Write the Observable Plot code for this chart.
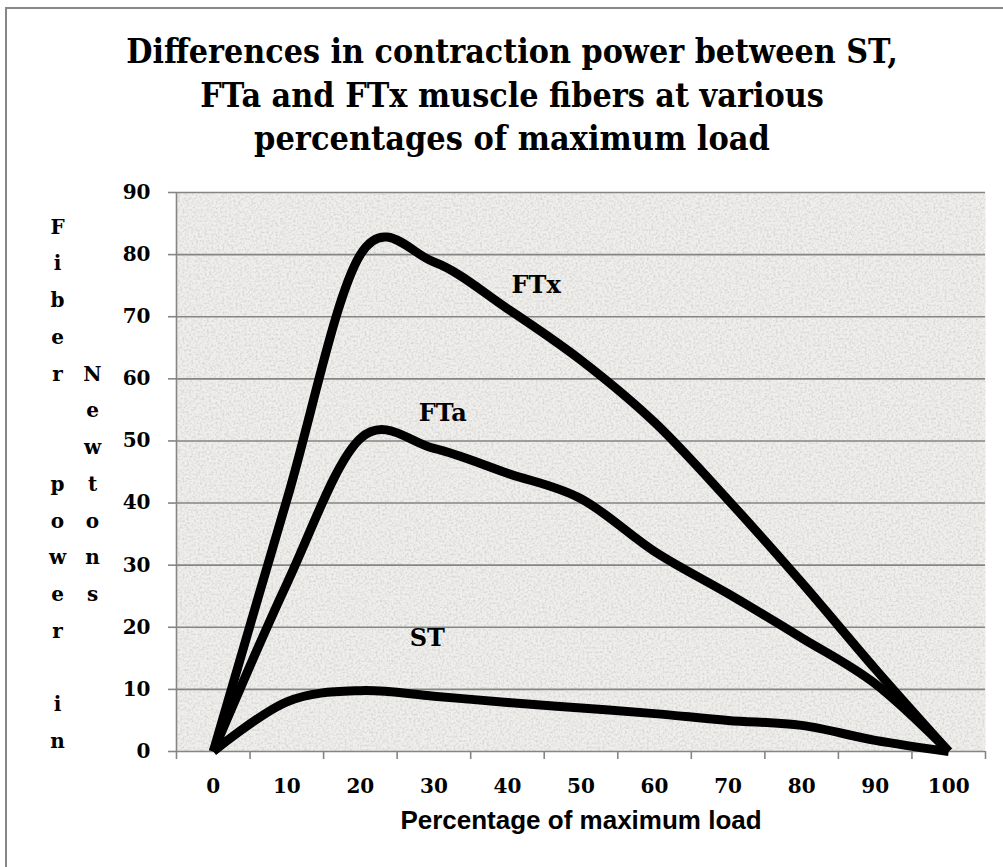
<!DOCTYPE html>
<html>
<head>
<meta charset="utf-8">
<script src="https://cdn.jsdelivr.net/npm/d3@7"></script>
<script src="https://cdn.jsdelivr.net/npm/@observablehq/plot@0.6"></script>
<style>
  body { margin: 0; background: #fff; }
  #wrap { position: relative; width: 1003px; height: 867px; overflow: hidden; background: #fff; }
  #border { position: absolute; left: 5px; top: 7px; width: 1100px; height: 1000px;
            border-left: 2px solid #878787; border-top: 2px solid #878787; }
  #title { position: absolute; left: 0; top: 0; }
  #title text { font-family: "DejaVu Serif", serif; font-weight: bold; font-size: 34px; fill: #000; }
  #chart { position: absolute; left: 0; top: 180px; }
</style>
</head>
<body>
<div id="wrap">
  <div id="border"></div>
  <svg id="title" width="1003" height="180">
    <text data-w="772" data-x="512" data-y="63" text-anchor="middle">Differences in contraction power between ST,</text>
    <text data-w="624" data-x="512" data-y="107" text-anchor="middle">FTa and FTx muscle fibers at various</text>
    <text data-w="516" data-x="512" data-y="150" text-anchor="middle">percentages of maximum load</text>
  </svg>
  <div id="chart"></div>
</div>
<script>
// ---- data ----
const loads = [0, 10, 20, 30, 40, 50, 60, 70, 80, 90, 100];
const stPower  = [0, 8.0, 9.8, 8.9, 7.9, 7.0, 6.1, 5.0, 4.2, 1.8, 0];
const ftaPower = [0, 27.0, 50.4, 48.8, 44.8, 40.7, 32.2, 25.4, 18.3, 10.9, 0];
const ftxPower = [0, 40.5, 80.0, 78.8, 71.3, 63.0, 53.0, 40.5, 27.2, 13.3, 0];
const seriesNames = ["ST", "FTa", "FTx"];
const yTicks = [0, 10, 20, 30, 40, 50, 60, 70, 80, 90];
const categoryBounds = [-5, 5, 15, 25, 35, 45, 55, 65, 75, 85, 95, 105];
const labelLoad  = [29.1, 31.2, 43.9];
const labelPower = [18.2, 54.4, 75.0];

// ---- tables built from the arrays ----
const seriesValues = [stPower, ftaPower, ftxPower];
const rows = [];
seriesNames.forEach((name, s) => loads.forEach((l, i) => rows.push({series: name, load: l, power: seriesValues[s][i]})));
const labels = seriesNames.map((name, i) => ({name, load: labelLoad[i], power: labelPower[i]}));

const serif = "DejaVu Serif, serif";
const gray = "#858585";
const rowH = 36.75;
const top0 = 15;

const stackText = (txt, dx, row) => Plot.text([txt], {
  frameAnchor: "top-left", dx, dy: top0 + row * rowH, lineAnchor: "top", lineHeight: rowH / 20,
  fontSize: 20, fontWeight: "bold", fontFamily: serif, textAnchor: "middle", fill: "#000"
});

const plot = Plot.plot({
  width: 1003,
  height: 687,
  marginLeft: 176,
  marginRight: 18,
  marginTop: 12,
  marginBottom: 116,
  style: {background: "transparent", color: "#000"},
  x: {domain: [-5, 105]},
  y: {domain: [0, 90]},
  marks: [
    Plot.frame({fill: "#f0efec", stroke: null}),
    Plot.gridY(yTicks, {stroke: gray, strokeOpacity: 1, strokeWidth: 1.6}),
    Plot.ruleX([-5], {stroke: gray, strokeWidth: 1.6}),
    Plot.axisY({ticks: yTicks, tickSize: 8, tickPadding: 18, stroke: gray, strokeWidth: 1.6,
                fontSize: 20, fontWeight: "bold", fontFamily: serif, label: null}),
    Plot.axisX({ticks: categoryBounds, tickSize: 8, tickFormat: () => "", stroke: gray, strokeWidth: 1.6, label: null}),
    Plot.axisX({ticks: loads, tickSize: 0, tickPadding: 27, tickFormat: d => String(d),
                fontSize: 20, fontWeight: "bold", fontFamily: serif, label: null}),
    Plot.line(rows, {x: "load", y: "power", z: "series", curve: "cardinal", tension: 0,
                     stroke: "#000", strokeWidth: 9, strokeLinejoin: "round", strokeLinecap: "butt"}),
    Plot.text(labels, {x: "load", y: "power", text: "name", fontSize: 24, fontWeight: "bold", fontFamily: serif, fill: "#000"}),
    Plot.text(["Percentage of maximum load"], {frameAnchor: "bottom", dy: 77, fontSize: 26, fontWeight: "bold",
                fontFamily: "Liberation Sans, Arial, sans-serif", fill: "#000"}),
    // vertical stacked y-axis title
    stackText("F\ni\nb\ne\nr", -119, 0),
    stackText("p\no\nw\ne\nr", -119, 7),
    stackText("i\nn", -119, 13),
    stackText("N\ne\nw\nt\no\nn\ns", -84, 4)
  ]
});

// granite-like texture on the plot area
const ns = "http://www.w3.org/2000/svg";
const defs = document.createElementNS(ns, "defs");
defs.innerHTML = `<filter id="granite" x="0" y="0" width="100%" height="100%">
  <feTurbulence type="fractalNoise" baseFrequency="0.45" numOctaves="3" seed="7" result="n"/>
  <feColorMatrix in="n" type="matrix" values="0 0 0 0 0.62  0 0 0 0 0.62  0 0 0 0 0.61  0 0 0 1.8 -0.7" result="spots"/>
  <feComposite in="spots" in2="SourceGraphic" operator="atop"/>
</filter>`;
plot.insertBefore(defs, plot.firstChild);
const frameRect = plot.querySelector('[aria-label="frame"]');
if (frameRect) {
  const r = frameRect.tagName === "rect" ? frameRect : frameRect.querySelector("rect");
  if (r) r.setAttribute("filter", "url(#granite)");
}
document.getElementById("chart").appendChild(plot);

// fit title lines to the reference widths by a horizontal scale
document.querySelectorAll("#title text").forEach(t => {
  const w = +t.dataset.w, x = +t.dataset.x, y = +t.dataset.y;
  const nat = t.getComputedTextLength() || w;
  const s = Math.min(1, w / nat);
  t.setAttribute("transform", `translate(${x},${y}) scale(${s},1)`);
});
</script>
</body>
</html>
